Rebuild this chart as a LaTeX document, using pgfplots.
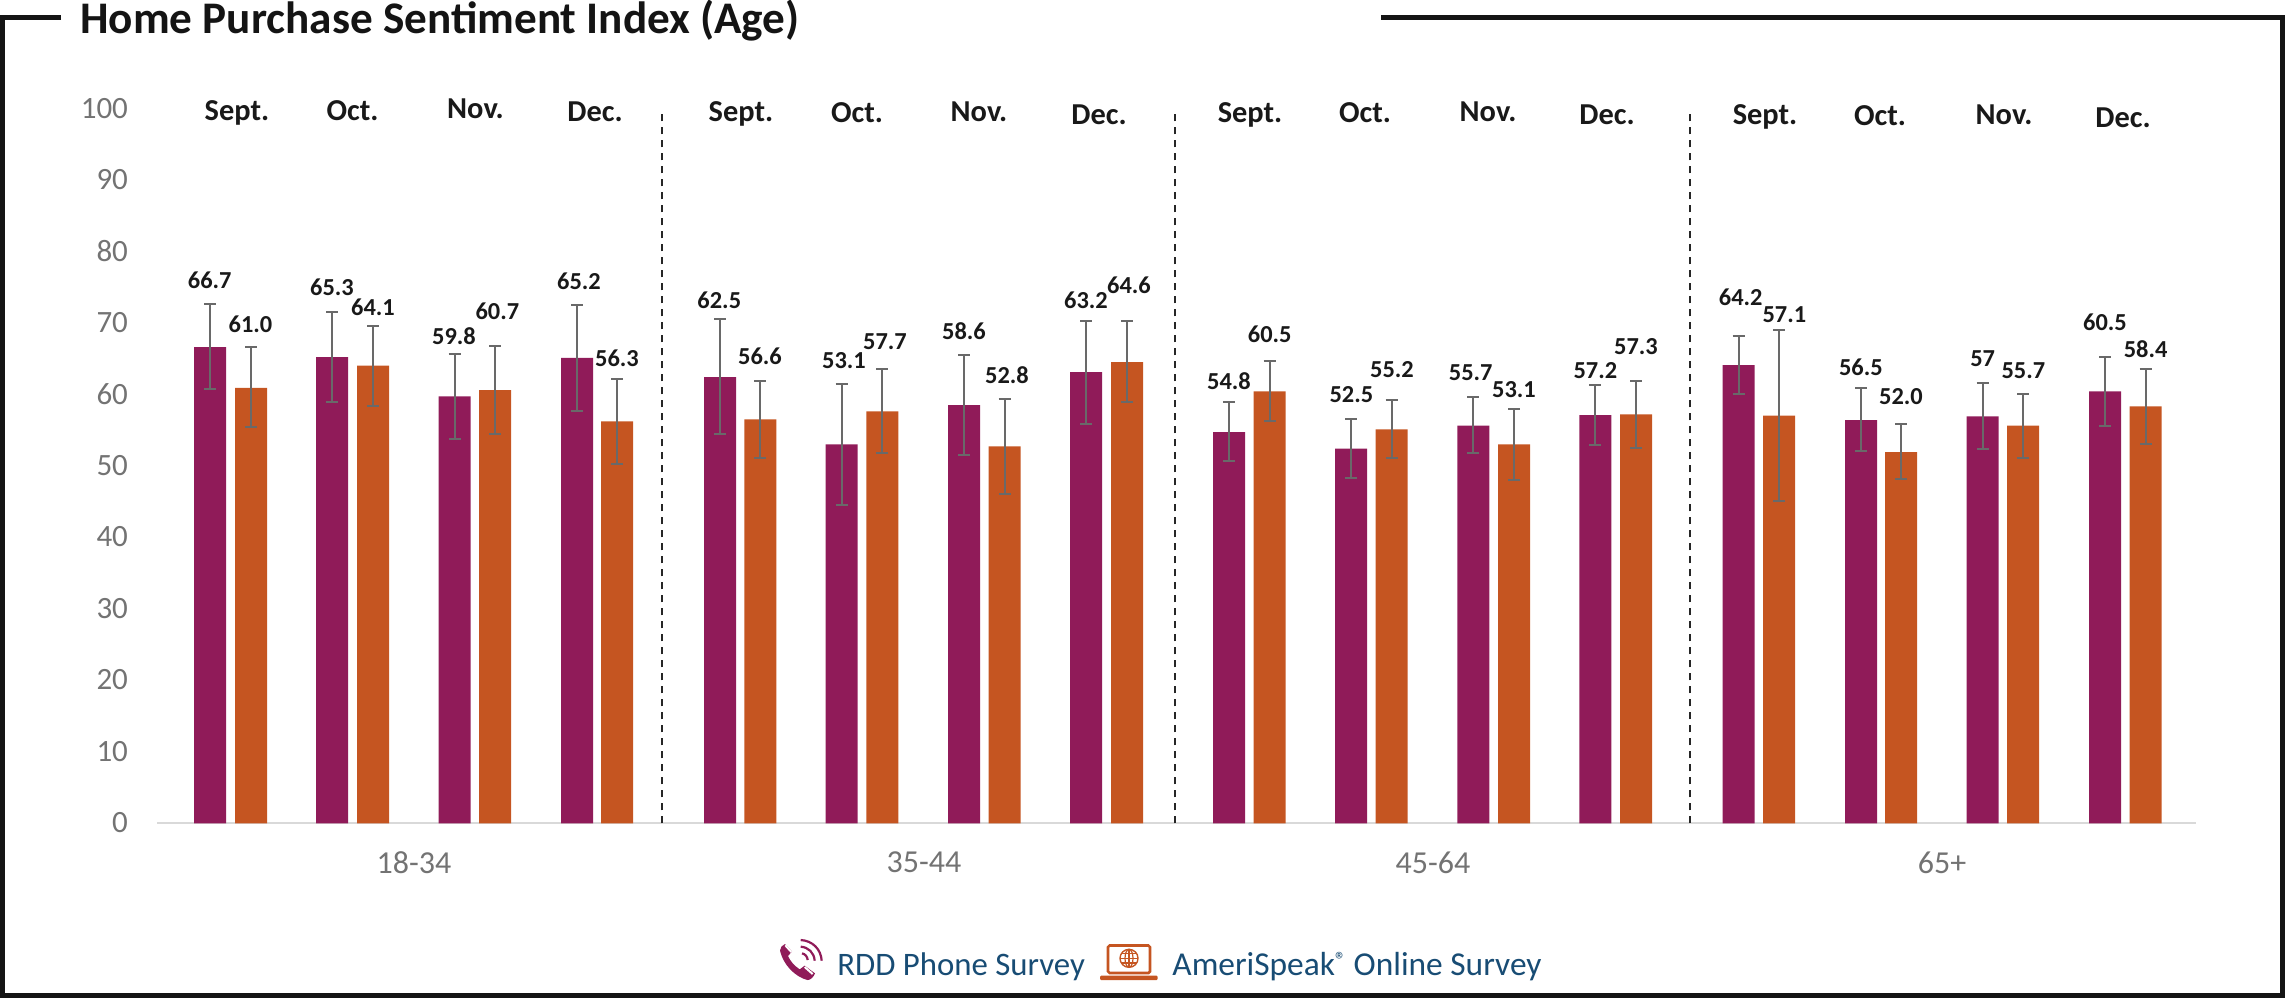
\documentclass[border=0pt]{standalone}
\usepackage{fontspec}
\setmainfont{Carlito}
\usepackage{pgfplots}
\usepackage{pgfplotstable}
\pgfplotsset{compat=1.18}
\definecolor{clrPhone}{RGB}{144,27,89}
\definecolor{clrWeb}{RGB}{197,85,33}
\definecolor{clrErr}{RGB}{105,105,105}
\definecolor{clrTick}{RGB}{115,115,115}
\definecolor{clrLeg}{RGB}{24,76,116}
\definecolor{clrBase}{RGB}{217,217,217}

% x is the position across the page, hi and lo the ends of the error bar
\pgfplotstableread{
x y hi lo
210 66.7 72.8 60.8
332 65.3 71.6 59.0
454.6 59.8 65.8 53.9
577 65.2 72.6 57.8
720 62.5 70.6 54.6
841.7 53.1 61.6 44.6
964 58.6 65.6 51.6
1086 63.2 70.4 56.0
1229 54.8 59.0 50.7
1351 52.5 56.7 48.4
1473.3 55.7 59.7 51.9
1595.3 57.2 61.4 53.0
1738.5 64.2 68.3 60.1
1861 56.5 61.0 52.1
1982.7 57.0 61.7 52.4
2105 60.5 65.3 55.7
}\phonedata
\pgfplotstableread{
x y hi lo
251 61.0 66.7 55.5
373 64.1 69.7 58.5
495 60.7 66.9 54.6
617 56.3 62.3 50.4
760.3 56.6 62.0 51.2
882.3 57.7 63.7 51.9
1004.7 52.8 59.4 46.2
1127 64.6 70.3 59.0
1269.7 60.5 64.8 56.3
1391.7 55.2 59.3 51.2
1514 53.1 58.1 48.1
1636 57.3 62.0 52.6
1779 57.1 69.1 45.1
1901 52.0 55.9 48.2
2023 55.7 60.2 51.2
2145.6 58.4 63.6 53.2
}\webdata
\pgfplotstableread{
x y t
209.7 76.1 66.7
250.5 69.9 61.0
332 75.1 65.3
373 72.2 64.1
454 68.2 59.8
497.4 71.7 60.7
579 75.9 65.2
617 65.1 56.3
719.3 73.3 62.5
760 65.4 56.6
844 64.9 53.1
885 67.5 57.7
964 68.9 58.6
1007 62.8 52.8
1086 73.2 63.2
1129 75.3 64.6
1229 61.9 54.8
1269.7 68.5 60.5
1351.3 60.1 52.5
1392 63.6 55.2
1470.7 63.1 55.7
1514 60.8 53.1
1595.3 63.5 57.2
1636 66.8 57.3
1740.7 73.7 64.2
1784.4 71.3 57.1
1860.8 63.9 56.5
1901 59.8 52.0
1982.7 65.1 57
2023.3 63.5 55.7
2105 70.1 60.5
2145.6 66.4 58.4
}\labeldata
\pgfplotstableread{
x y t
237 99.9 Sept.
352.6 99.9 Oct.
475.5 100.1 Nov.
595 99.7 Dec.
741 99.7 Sept.
857 99.5 Oct.
979 99.7 Nov.
1099 99.3 Dec.
1250 99.5 Sept.
1365 99.5 Oct.
1488 99.7 Nov.
1607 99.3 Dec.
1765 99.3 Sept.
1880 99.1 Oct.
2004 99.3 Nov.
2123 98.9 Dec.
}\monthdata

\begin{document}
\begin{tikzpicture}[x=0.5pt,y=-0.5pt]
\path[use as bounding box] (0,0) rectangle (2285,998);
\begin{axis}[
  at={(78.5pt,-411.7pt)}, anchor=south west,
  scale only axis, width=1019.5pt, height=357pt,
  xmin=157, xmax=2196, ymin=0, ymax=100,
  clip=false,
  axis x line=bottom, axis y line=left,
  axis line style={-},
  x axis line style={draw=clrBase,line width=1pt},
  y axis line style={draw=none},
  major tick length=0pt,
  xtick={414,924,1433,1942},
  xticklabels={18-34,35-44,45-64,65+},
  ytick={0,10,...,100},
  /pgf/number format/assume math mode=true,
  yticklabel style={font=\fontsize{15.5}{15.5}\selectfont,color=clrTick,xshift=-11pt,yshift=0.4pt},
  xticklabel style={font=\fontsize{16}{16}\selectfont,color=clrTick,yshift=-10.5pt},
]
\addplot[ybar,bar shift=0pt,bar width=16pt,fill=clrPhone,draw=none,
  error bars/.cd,y dir=both,y explicit,
  error bar style={clrErr,line width=1pt},
  error mark options={clrErr,line width=1pt,rotate=90,mark size=3pt}]
  table[x=x,y=y,y error plus expr=\thisrow{hi}-\thisrow{y},y error minus expr=\thisrow{y}-\thisrow{lo}] {\phonedata};
\addplot[ybar,bar shift=0pt,bar width=16pt,fill=clrWeb,draw=none,
  error bars/.cd,y dir=both,y explicit,
  error bar style={clrErr,line width=1pt},
  error mark options={clrErr,line width=1pt,rotate=90,mark size=3pt}]
  table[x=x,y=y,y error plus expr=\thisrow{hi}-\thisrow{y},y error minus expr=\thisrow{y}-\thisrow{lo}] {\webdata};
\addplot[draw=none,mark=none,point meta=explicit symbolic,
  nodes near coords={\pgfplotspointmeta},
  every node near coord/.style={anchor=center,inner sep=0pt,text height=8pt,text depth=0pt,
    font=\fontsize{12.2}{12.2}\selectfont\bfseries,text=black!90}]
  table[x=x,y=y,meta=t] {\labeldata};
\addplot[draw=none,mark=none,point meta=explicit symbolic,
  nodes near coords={\pgfplotspointmeta},
  every node near coord/.style={anchor=center,inner sep=0pt,text height=10pt,text depth=0pt,
    font=\fontsize{15.2}{15.2}\selectfont\bfseries,text=black!90}]
  table[x=x,y=y,meta=t] {\monthdata};
\foreach \xx in {662,1175,1690}{
  \edef\temp{\noexpand\draw[black!85,line width=0.75pt,dash pattern=on 3.8pt off 2.7pt] (axis cs:\xx,0) -- (axis cs:\xx,99.5);}
  \temp
}
\end{axis}
% frame with a gap for the title
\draw[black!92,line width=2.5pt,line cap=butt]
  (61,17.5) -- (2.5,17.5) -- (2.5,995.5) -- (2282.5,995.5) -- (2282.5,17.5) -- (1381,17.5);
\node[anchor=base west,inner sep=0pt,font=\fontsize{22.6}{22.6}\selectfont\bfseries,text=black!92] at (80,33) {Home Purchase Sentiment Index (Age)};
% legend with hand-drawn icons
\node[anchor=base west,inner sep=0pt,font=\fontsize{16.4}{16.4}\selectfont,text=clrLeg] at (837,975) {RDD Phone Survey};
\node[anchor=base west,inner sep=0pt,font=\fontsize{16.7}{16.7}\selectfont,text=clrLeg] at (1172,975) {AmeriSpeak\raisebox{0.5ex}{\fontsize{11}{11}\selectfont ®} Online Survey};
\begin{scope}[shift={(770,930)},x=0.1667pt,y=-0.1667pt]
  \fill[clrPhone] (30,62) .. controls (30,52) and (36,46) .. (45,42) -- (66,64) -- (54,78) .. controls (62,95) and (72,106) .. (89,118)
     -- (104,107) -- (135,130) .. controls (130,142) and (122,150) .. (112,150) .. controls (75,140) and (40,105) .. (30,62) -- cycle;
  \draw[white,line width=1pt] (46,46) -- (64,66);
  \draw[white,line width=1pt] (104,111) -- (128,132);
  \draw[clrPhone,line width=1.1pt] (92,30) .. controls (128,32) and (153,58) .. (155,92);
  \draw[clrPhone,line width=1.1pt] (92,50) .. controls (116,52) and (132,68) .. (134,92);
  \draw[clrPhone,line width=1.1pt] (96,70) .. controls (106,72) and (112,80) .. (113,90);
\end{scope}
\begin{scope}[clrWeb]
  \draw[line width=1.3pt,rounded corners=0.8pt] (1108,945.5) rectangle (1150,973);
  \fill[rounded corners=0.6pt] (1100,975.7) rectangle (1157.7,980);
  \draw[line width=0.7pt] (1129,958.3) circle[radius=9];
  \draw[line width=0.6pt] (1129,958.3) ellipse[x radius=4,y radius=9];
  \draw[line width=0.6pt] (1129,949.3) -- (1129,967.3) (1120,958.3) -- (1138,958.3) (1121.5,953.5) -- (1136.5,953.5) (1121.5,963) -- (1136.5,963);
\end{scope}
\end{tikzpicture}
\end{document}
